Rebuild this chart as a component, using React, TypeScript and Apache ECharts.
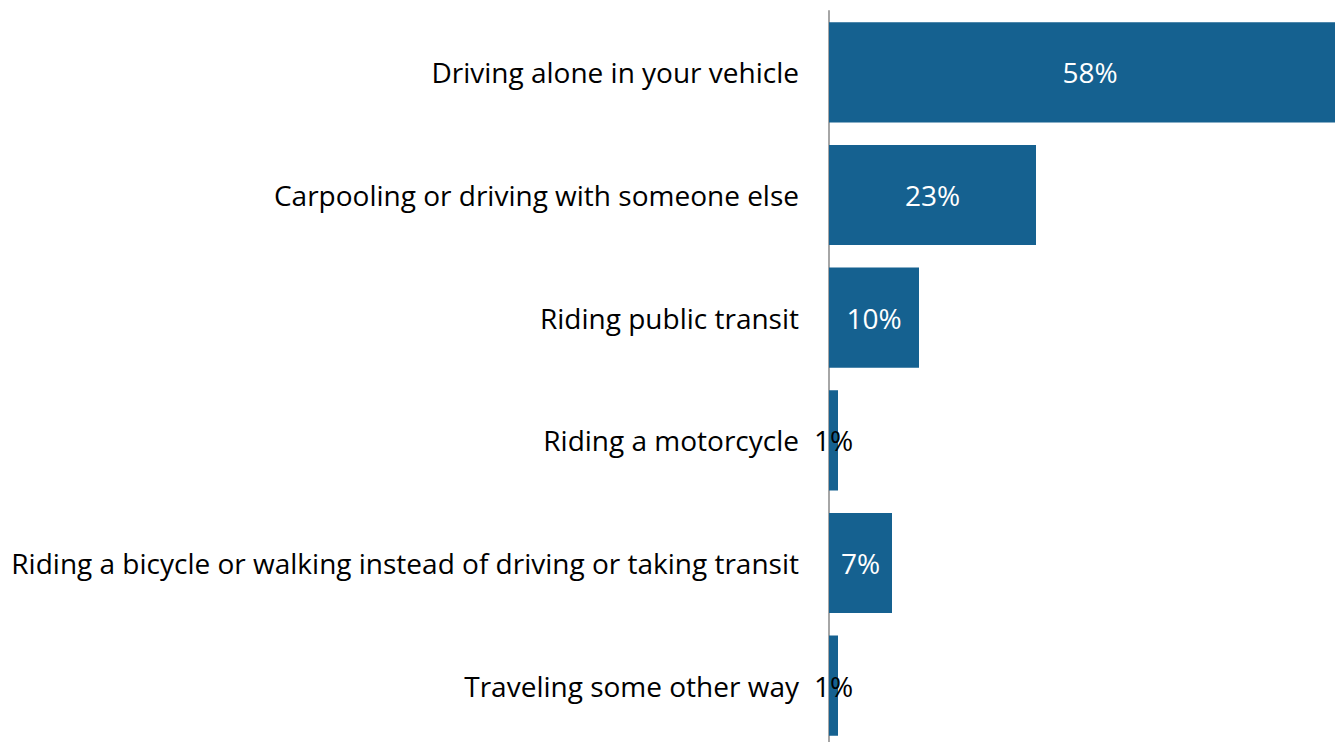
import React, { useEffect, useRef } from "react";
import * as echarts from "echarts";

const categories = [
  "Driving alone in your vehicle",
  "Carpooling or driving with someone else",
  "Riding public transit",
  "Riding a motorcycle",
  "Riding a bicycle or walking instead of driving or taking transit",
  "Traveling some other way",
];
const values = [58, 23, 10, 1, 7, 1];

const FONT = "'Open Sans', sans-serif";
const BAR = "#156190";

export default function App() {
  const ref = useRef<HTMLDivElement>(null);
  useEffect(() => {
    if (!ref.current) return;
    const chart = echarts.init(ref.current, undefined, { renderer: "svg" });
    chart.setOption({
      animation: false,
      backgroundColor: "#ffffff",
      grid: { left: 829, width: 540, top: 11, height: 736, containLabel: false },
      xAxis: { type: "value", min: 0, max: 60, show: false },
      yAxis: {
        type: "category",
        data: categories,
        inverse: true,
        axisTick: { show: false },
        axisLine: { show: true, lineStyle: { color: "#a6a6a6", width: 2 } },
        axisLabel: { margin: 30, color: "#000000", fontSize: 28, fontFamily: FONT },
      },
      series: [
        {
          type: "bar",
          data: values.map((v) => ({
            value: v,
            label: { color: v < 3 ? "#000000" : "#ffffff" },
          })),
          barCategoryGap: "18.4%",
          itemStyle: { color: BAR },
          clip: false,
          label: {
            show: true,
            position: "inside",
            formatter: "{c}%",
            fontSize: 28,
            fontFamily: FONT,
          },
        },
      ],
    });
    return () => chart.dispose();
  }, []);
  return (
    <div
      ref={ref}
      style={{ position: "fixed", left: 0, top: 0, width: 1369, height: 750 }}
    />
  );
}
